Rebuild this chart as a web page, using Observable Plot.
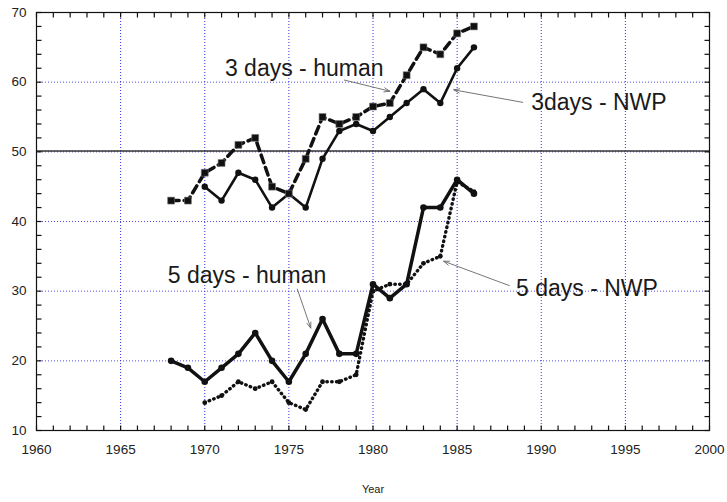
<!DOCTYPE html>
<html><head><meta charset="utf-8">
<script src="https://cdn.jsdelivr.net/npm/d3@7"></script>
<script src="https://cdn.jsdelivr.net/npm/@observablehq/plot@0.6"></script>
<style>body{margin:0;background:#fff} #chart svg{display:block}</style>
</head><body><div id="chart"></div>
<script>
// ---- data ----
const years3Human = [1968,1969,1970,1971,1972,1973,1974,1975,1976,1977,1978,1979,1980,1981,1982,1983,1984,1985,1986];
const human3 =      [43,  43,  47,  48.4,51,  52,  45,  44,  49,  55,  54,  55,  56.5,57,  61,  65,  64,  67,  68];
const years3NWP   = [1970,1971,1972,1973,1974,1975,1976,1977,1978,1979,1980,1981,1982,1983,1984,1985,1986];
const nwp3 =        [45,  43,  47,  46,  42,  44,  42,  49,  53,  54,  53,  55,  57,  59,  57,  62,  65];
const years5Human = [1968,1969,1970,1971,1972,1973,1974,1975,1976,1977,1978,1979,1980,1981,1982,1983,1984,1985,1986];
const human5 =      [20,  19,  17,  19,  21,  24,  20,  17,  21,  26,  21,  21,  31,  29,  31,  42,  42,  46,  44];
const years5NWP   = [1970,1971,1972,1973,1974,1975,1976,1977,1978,1979,1980,1981,1982,1983,1984,1985,1986];
const nwp5 =        [14,  15,  17,  16,  17,  14,  13,  17,  17,  18,  30,  31,  31,  34,  35,  45.7,44.3];

const xTickLabels = [1960,1965,1970,1975,1980,1985,1990,1995,2000];
const yTickLabels = [10,20,30,40,50,60,70];
const xGrid = [1965,1970,1975,1980,1985,1990,1995];
const yGrid = [20,30,40,60];
const refLine = [50];
const xMinor = d3.range(1960, 2001, 1);
const yMinor = d3.range(10, 71, 2);
const xTitle = ["Year"];

const labelText = ["3 days - human", "3days - NWP", "5 days - human", "5 days - NWP"];
const labelX = [1971.2, 1989.4, 1967.8, 1988.5];
const labelY = [61.9, 57.1, 32.2, 30.4];
const arrowX1 = [1978.3, 1988.9, 1975.5, 1988.1];
const arrowY1 = [60.3, 57.1, 30.3, 30.8];
const arrowX2 = [1981.0, 1984.8, 1976.3, 1984.2];
const arrowY2 = [58.7, 58.9, 24.7, 34.3];

// ---- build tables ----
const s3h = years3Human.map((x, i) => ({x, y: human3[i]}));
const s3n = years3NWP.map((x, i) => ({x, y: nwp3[i]}));
const s5h = years5Human.map((x, i) => ({x, y: human5[i]}));
const s5n = years5NWP.map((x, i) => ({x, y: nwp5[i]}));
const labels = labelText.map((t, i) => ({t, x: labelX[i], y: labelY[i]}));
const arrows = arrowX1.map((x1, i) => ({x1, y1: arrowY1[i], x2: arrowX2[i], y2: arrowY2[i]}));

const W = 727, H = 502, mT = 12, mB = 72, mL = 36, mR = 18;
const pw = W - mL - mR, ph = H - mT - mB, tk = 5;
const xD = [1960, 2000], yD = [10, 70];
const tx = tk * (xD[1] - xD[0]) / pw;   // tick length in x units
const ty = tk * (yD[1] - yD[0]) / ph;   // tick length in y units
const ink = "#111";
const gridColor = "#3030e0";
const tickRows = {
  bottom: xMinor.map(x => ({x1: x, x2: x, y1: yD[0], y2: yD[0] + ty})),
  top: xMinor.map(x => ({x1: x, x2: x, y1: yD[1], y2: yD[1] - ty})),
  left: yMinor.map(y => ({x1: xD[0], x2: xD[0] + tx, y1: y, y2: y})),
  right: yMinor.map(y => ({x1: xD[1], x2: xD[1] - tx, y1: y, y2: y}))
};
const allTicks = [...tickRows.bottom, ...tickRows.top, ...tickRows.left, ...tickRows.right];

const chart = Plot.plot({
  width: W, height: H,
  marginTop: mT, marginBottom: mB, marginLeft: mL, marginRight: mR,
  style: {fontFamily: "'Liberation Sans', Arial, sans-serif", background: "#fff", overflow: "visible"},
  x: {domain: xD},
  y: {domain: yD},
  marks: [
    Plot.ruleX(xGrid, {x: d => d, stroke: gridColor, strokeDasharray: "1,2"}),
    Plot.ruleY(yGrid, {y: d => d, stroke: gridColor, strokeOpacity: 0.85, strokeDasharray: "1,2"}),
    Plot.ruleY(refLine, {y: d => d, stroke: gridColor, strokeDasharray: "1,2"}),
    Plot.ruleY(refLine, {y: d => d, stroke: "#333", strokeWidth: 1.6, dy: -0.8}),
    // inward minor ticks
    Plot.link(allTicks, {x1: "x1", x2: "x2", y1: "y1", y2: "y2", stroke: ink, strokeWidth: 1.2}),
    Plot.frame({stroke: ink, strokeWidth: 1.2}),
    Plot.axisX({ticks: xTickLabels, tickSize: 0, tickPadding: 14, tickFormat: d => String(d), label: null, fontSize: 13.5, fill: "#222"}),
    Plot.axisY({ticks: yTickLabels, tickSize: 0, tickPadding: 10, tickFormat: d => String(d), label: null, fontSize: 13.5, fill: "#222"}),
    Plot.text(xTitle, {x: () => 1980, frameAnchor: "bottom", dy: 62, text: d => d, fontSize: 11, fill: "#222"}),
    // series
    Plot.line(s5n, {x: "x", y: "y", stroke: ink, strokeWidth: 3.4, strokeDasharray: "0.5,4.3", strokeLinecap: "round"}),
    Plot.dot(s5n, {x: "x", y: "y", r: 2.4, fill: ink}),
    Plot.line(s5h, {x: "x", y: "y", stroke: ink, strokeWidth: 3.5}),
    Plot.dot(s5h, {x: "x", y: "y", r: 3.3, fill: ink}),
    Plot.line(s3n, {x: "x", y: "y", stroke: ink, strokeWidth: 2.6}),
    Plot.dot(s3n, {x: "x", y: "y", r: 3.2, fill: ink}),
    Plot.line(s3h, {x: "x", y: "y", stroke: ink, strokeWidth: 3.5, strokeDasharray: "8,5"}),
    Plot.dot(s3h, {x: "x", y: "y", symbol: "square", r: 3.9, fill: ink, stroke: "#777", strokeWidth: 0.6}),
    // annotations
    Plot.arrow(arrows, {x1: "x1", y1: "y1", x2: "x2", y2: "y2", stroke: "#666", strokeWidth: 0.9, headLength: 10, headAngle: 40}),
    Plot.text(labels, {x: "x", y: "y", text: "t", textAnchor: "start", fontSize: 23, fill: "#1a1a1a"})
  ]
});
document.getElementById("chart").appendChild(chart);
</script>
</body></html>
